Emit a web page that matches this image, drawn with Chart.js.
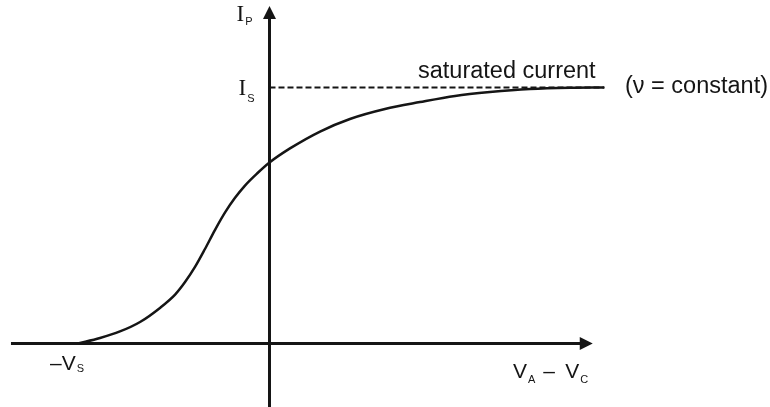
<!DOCTYPE html>
<html lang="en">
<head>
    <meta charset="UTF-8">
    <title>Photocurrent vs voltage</title>
    <script src="https://cdn.jsdelivr.net/npm/chart.js@4.4.0/dist/chart.umd.min.js"></script>
    <style>
        body { margin: 0; background: #fff; }
        canvas { display: block; }
    </style>
</head>
<body>
    <canvas id="chart" width="770" height="407"></canvas>
    <script>
        // voltage in units of V_S, current in units of I_S
        const voltage = [-1.0, -0.885, -0.781, -0.676, -0.572, -0.493, -0.441, -0.389, -0.337, -0.285, -0.232, -0.180, -0.128, -0.065, 0,
                         0.107, 0.264, 0.420, 0.603, 0.786, 0.969, 1.151, 1.360, 1.569, 1.747];
        const current = [0, 0.0215, 0.047, 0.084, 0.139, 0.191, 0.240, 0.299, 0.369, 0.443, 0.512, 0.569, 0.617, 0.664, 0.707,
                         0.762, 0.828, 0.877, 0.916, 0.943, 0.967, 0.982, 0.994, 0.999, 1.0];
        const saturation = 1.0;
        const saturationEnd = 1.75;
        const xAxisRange = [-1.35, 1.688];
        const yAxisRange = [-0.25, 1.318];
        const labels = {
            yAxis: ['I', 'P'],
            sat: ['I', 'S'],
            stop: ['\u2013V', 'S'],
            xAxisA: ['V', 'A'],
            xAxisC: ['V', 'C'],
            satText: 'saturated current',
            note: '(\u03bd = constant)'
        };

        const ink = '#151515';
        const pts = (xs, ys) => xs.map((x, i) => ({x: x, y: ys[i]}));

        const arrowsAndText = {
            id: 'arrowsAndText',
            afterDraw(chart) {
                const ctx = chart.ctx;
                const xs = chart.scales.x, ys = chart.scales.y;
                const ox = xs.getPixelForValue(0), oy = ys.getPixelForValue(0);
                ctx.save();
                ctx.fillStyle = ink;
                // arrowheads
                const rx = xs.getPixelForValue(xAxisRange[1]);
                ctx.beginPath();
                ctx.moveTo(rx, oy);
                ctx.lineTo(rx - 13, oy - 6.5);
                ctx.lineTo(rx - 13, oy + 6.5);
                ctx.closePath();
                ctx.fill();
                const ty = ys.getPixelForValue(yAxisRange[1]);
                ctx.beginPath();
                ctx.moveTo(ox, ty);
                ctx.lineTo(ox - 6.5, ty + 13);
                ctx.lineTo(ox + 6.5, ty + 13);
                ctx.closePath();
                ctx.fill();

                ctx.textAlign = 'left';
                ctx.textBaseline = 'alphabetic';
                const sub = (pair, x, y, mainFont, dy) => {
                    ctx.font = mainFont;
                    ctx.fillText(pair[0], x, y);
                    const w = ctx.measureText(pair[0]).width;
                    ctx.font = '11px "Liberation Sans", Arial, sans-serif';
                    ctx.fillText(pair[1], x + w + 1, y + dy);
                    return x + w + 1 + ctx.measureText(pair[1]).width;
                };
                const serif = '23px "Liberation Serif", "Times New Roman", serif';
                const sans = '21px "Liberation Sans", Arial, sans-serif';
                const satY = ys.getPixelForValue(saturation);

                sub(labels.yAxis, ox - 33, 21, serif, 4);
                sub(labels.sat, ox - 31, satY + 8, serif, 7);

                const vsx = xs.getPixelForValue(voltage[0]);
                sub(labels.stop, vsx - 28, oy + 27, sans, 2);

                let end = sub(labels.xAxisA, 513, oy + 35, sans, 5);
                ctx.font = sans;
                ctx.fillText('\u2013', end + 8, oy + 35);
                sub(labels.xAxisC, end + 30, oy + 35, sans, 5);

                ctx.font = '23.5px "Liberation Sans", Arial, sans-serif';
                ctx.fillText(labels.satText, 418, satY - 9.5);
                ctx.fillText(labels.note, 625, satY + 6);
                ctx.restore();
            }
        };

        const ctx = document.getElementById('chart').getContext('2d');
        const myChart = new Chart(ctx, {
            type: 'scatter',
            data: {
                datasets: [
                    {
                        data: pts(voltage, current),
                        showLine: true,
                        borderColor: ink,
                        borderWidth: 2.5,
                        pointRadius: 0,
                        cubicInterpolationMode: 'monotone'
                    },
                    {
                        data: [{x: 0, y: saturation}, {x: saturationEnd, y: saturation}],
                        showLine: true,
                        borderColor: ink,
                        borderWidth: 2,
                        borderDash: [6, 3],
                        pointRadius: 0
                    },
                    {
                        data: [{x: xAxisRange[0], y: 0}, {x: xAxisRange[1] - 0.06, y: 0}],
                        showLine: true,
                        borderColor: ink,
                        borderWidth: 3,
                        pointRadius: 0
                    },
                    {
                        data: [{x: 0, y: yAxisRange[0]}, {x: 0, y: yAxisRange[1] - 0.045}],
                        showLine: true,
                        borderColor: ink,
                        borderWidth: 3,
                        pointRadius: 0
                    }
                ]
            },
            options: {
                responsive: false,
                animation: false,
                layout: { padding: 0 },
                plugins: { legend: { display: false }, tooltip: { enabled: false } },
                scales: {
                    x: { type: 'linear', display: false, min: -1.4073, max: 2.6136 },
                    y: { type: 'linear', display: false, min: -0.2481, max: 1.3418 }
                }
            },
            plugins: [arrowsAndText]
        });
    </script>
</body>
</html>
